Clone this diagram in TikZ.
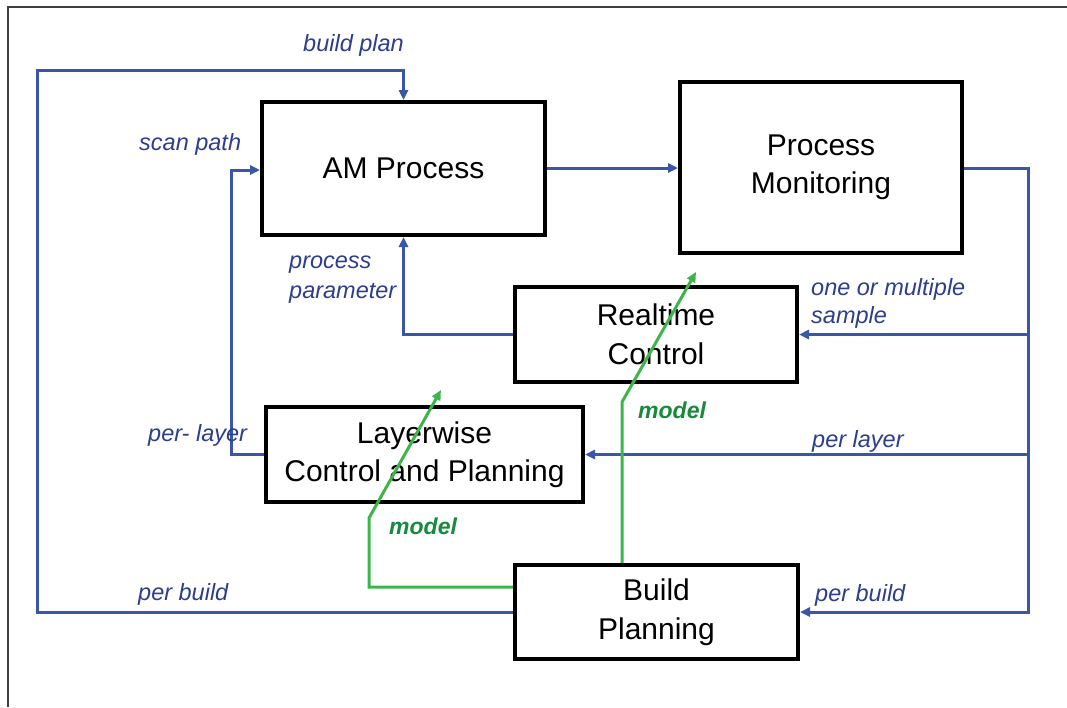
\documentclass[tikz,border=0pt]{standalone}
\usepackage{fontspec}
\setmainfont{Liberation Sans}
\usetikzlibrary{arrows.meta,calc}
\definecolor{lineblue}{HTML}{3A56A8}
\definecolor{textblue}{HTML}{2E3E8C}
\definecolor{linegreen}{HTML}{3DB54A}
\definecolor{textgreen}{HTML}{178A3C}
\tikzset{
  box/.style={draw=black, line width=4pt, fill=white, align=center,
    font=\fontsize{30}{38.5}\selectfont, inner sep=0pt},
  bluearrow/.style={draw=lineblue, line width=3pt,
    -{Triangle[length=10pt,width=9pt]}},
  greenarrow/.style={draw=linegreen, line width=3pt,
    -{Triangle[length=10pt,width=9pt]}},
  bluelabel/.style={text=textblue, font=\fontsize{23.5}{29}\selectfont\itshape,
    anchor=base west, inner sep=0pt, align=left},
  greenlabel/.style={text=textgreen, font=\fontsize{23}{29}\selectfont\bfseries\itshape,
    anchor=base west, inner sep=0pt},
}
\begin{document}
\begin{tikzpicture}[x=1pt,y=-1pt]
\useasboundingbox (0,0) rectangle (1067,707);
\fill[white] (0,0) rectangle (1067,707);
% frame
\draw[black!75, line width=1.6pt] (8,707) -- (8,7) -- (1067,7);

% boxes
\node[box, minimum width=283pt, minimum height=133pt] (AM) at (403.5,168.5) {AM Process};
\node[box, minimum width=282pt, minimum height=171pt] (PM) at (821,167.5) {Process\\Monitoring};
\node[box, minimum width=282pt, minimum height=95pt] (RT) at (656,334.5) {Realtime\\Control};
\node[box, minimum width=317pt, minimum height=95pt] (LW) at (424.5,454.5) {Layerwise\\Control and Planning};
\node[box, minimum width=283pt, minimum height=94pt] (BP) at (656.5,612) {Build\\Planning};

% coordinates
\coordinate (lb) at (37,612);
\coordinate (lt) at (37,70);
\coordinate (sp) at (231,170);
\coordinate (rb) at (1028,168);
\coordinate (g1a) at (369,587);
\coordinate (g1b) at (369,518);
\coordinate (g1t) at (441,390);
\coordinate (g2a) at (622,402);
\coordinate (g2t) at (696,272);

% blue connectors
\draw[bluearrow] (BP.west) -- (lb) -- (lt) -- (lt -| AM.north) -- (AM.north);
\draw[bluearrow] (LW.west) -- (LW.west -| sp) -- (sp) -- (sp -| AM.west);
\draw[bluearrow] (RT.west) -| (AM.south);
\draw[bluearrow] (AM.east |- rb) -- (PM.west |- rb);
\draw[bluearrow] (PM.east |- rb) -- (rb) -- (rb |- BP.east) -- (BP.east);
\draw[bluearrow] (rb |- RT.east) -- (RT.east);
\draw[bluearrow] (rb |- LW.east) -- (LW.east);

% green connectors
\draw[greenarrow] (BP.west |- g1a) -- (g1a) -- (g1b) -- (g1t);
\draw[greenarrow] (BP.north -| g2a) -- (g2a) -- (g2t);

% labels
\node[bluelabel] (Lbp) at (303,51) {build plan};
\node[bluelabel] (Lsp) at (139,150) {scan path};
\node[bluelabel] (Lpp1) at (289,268) {process};
\node[bluelabel] (Lpp2) at (289,298) {parameter};
\node[bluelabel] (Lpl) at (148,441) {per- layer};
\node[bluelabel] (Lpb1) at (138,600) {per build};
\node[bluelabel] (Lom1) at (811,295) {one or multiple};
\node[bluelabel] (Lom2) at (811,323) {sample};
\node[bluelabel] (Lpl2) at (812,447) {per layer};
\node[bluelabel] (Lpb2) at (815,601) {per build};
\node[greenlabel] (Lm1) at (389,534) {model};
\node[greenlabel] (Lm2) at (638,418) {model};
\end{tikzpicture}
\end{document}
